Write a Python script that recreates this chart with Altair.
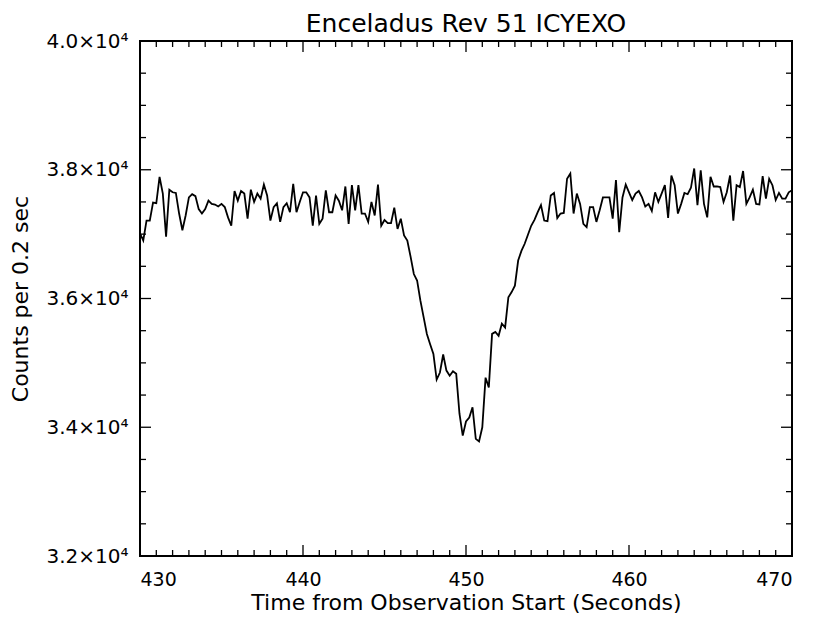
import altair as alt
import pandas as pd

# Counts per 0.2 s sample, starting at t = 430 s
counts = [
    37010, 36900, 37210, 37210, 37490, 37480, 37890, 37630, 36960, 37690,
    37650, 37640, 37320, 37060, 37290, 37570, 37620, 37590, 37390, 37320,
    37390, 37520, 37470, 37460, 37430, 37470, 37420, 37260, 37130, 37670,
    37520, 37670, 37630, 37240, 37690, 37500, 37630, 37550, 37770, 37600,
    37210, 37420, 37480, 37190, 37420, 37480, 37340, 37780, 37340, 37500,
    37650, 37650, 37570, 37130, 37600, 37160, 37240, 37680, 37340, 37340,
    37600, 37520, 37370, 37740, 37160, 37760, 37370, 37760, 37320, 37320,
    37190, 37500, 37290, 37770, 37130, 37220, 37170, 37170, 37410, 37080,
    37240, 36980, 36900, 36650, 36380, 36280, 35970, 35710, 35450, 35290,
    35140, 34740, 34850, 35130, 34880, 34800, 34870, 34830, 34210, 33870,
    34090, 34150, 34310, 33820, 33780, 34000, 34770, 34620, 35450, 35480,
    35420, 35610, 35550, 36020, 36100, 36200, 36590, 36740, 36850, 36990,
    37130, 37220, 37340, 37450, 37210, 37200, 37600, 37640, 37250, 37320,
    37330, 37860, 37940, 37320, 37630, 37470, 37160, 37110, 37420, 37420,
    37190, 37370, 37570, 37570, 37570, 37240, 37840, 37030, 37570, 37770,
    37650, 37530, 37630, 37670, 37570, 37430, 37470, 37360, 37650, 37500,
    37630, 37760, 37250, 37910, 37760, 37320, 37470, 37640, 37620, 37720,
    38020, 37450, 37990, 37470, 37260, 37890, 37740, 37740, 37730, 37500,
    37650, 37910, 37210, 37760, 37730, 37980, 37470, 37570, 37690, 37470,
    37460, 37900, 37550, 37860, 37760, 37530, 37640, 37550, 37550, 37650,
    37680,
]
t_start = 430.0
t_step = 0.2
times = [round(t_start + t_step * i, 1) for i in range(len(counts))]

x_major = [430, 440, 450, 460, 470]
x_minor = [v for v in range(431, 470) if v % 10 != 0]
y_major = [32000, 34000, 36000, 38000, 40000]
y_minor = [v for v in range(32500, 40000, 500) if v % 2000 != 0]

W, H = 652, 515
MAJ, MIN = 11, 6
FONT = "DejaVu Sans"

xs = alt.Scale(domain=[430, 470], nice=False, zero=False)
ys = alt.Scale(domain=[32000, 40000], nice=False, zero=False)

df = pd.DataFrame({"time": times, "counts": counts})

line = alt.Chart(df).mark_line(color="black", strokeWidth=1.8).encode(
    x=alt.X("time:Q", scale=xs,
            axis=alt.Axis(values=x_major, format="d", grid=False, ticks=False, tickSize=0,
                          domain=False, labelFontSize=19, labelPadding=14,
                          labelColor="black", labelFont=FONT,
                          title="Time from Observation Start (Seconds)",
                          titleFontSize=22, titleFontWeight="normal", titleFont=FONT,
                          titleColor="black", titlePadding=3)),
    y=alt.Y("counts:Q", scale=ys,
            axis=alt.Axis(values=y_major, grid=False, ticks=False, tickSize=0, domain=False,
                          labelExpr="format(datum.value / 10000, '.1f') + '×10⁴'",
                          labelFontSize=20, labelPadding=12, labelColor="black",
                          labelFont=FONT,
                          title="Counts per 0.2 sec", titleFontSize=22,
                          titleFontWeight="normal", titleFont=FONT, titleColor="black",
                          titleX=-120, titleY=H / 2, titleBaseline="middle",
                          titleAlign="center")),
)


def xticks(vals, y0, y1):
    return alt.Chart(pd.DataFrame({"time": vals})).mark_rule(
        color="black", strokeWidth=1.3).encode(
        x=alt.X("time:Q", scale=xs), y=alt.value(y0), y2=alt.value(y1))


def yticks(vals, x0, x1):
    return alt.Chart(pd.DataFrame({"counts": vals})).mark_rule(
        color="black", strokeWidth=1.3).encode(
        y=alt.Y("counts:Q", scale=ys), x=alt.value(x0), x2=alt.value(x1))


layers = [
    line,
    xticks(x_major, H, H - MAJ), xticks(x_minor, H, H - MIN),
    xticks(x_major, 0, MAJ), xticks(x_minor, 0, MIN),
    yticks(y_major, 0, MAJ), yticks(y_minor, 0, MIN),
    yticks(y_major, W, W - MAJ), yticks(y_minor, W, W - MIN),
]

chart = alt.layer(*layers).properties(
    width=W, height=H,
    autosize=alt.AutoSizeParams(type="none"),
    padding={"left": 132, "top": 33, "right": 12, "bottom": 60},
    title=alt.TitleParams("Enceladus Rev 51 ICYEXO", fontSize=25, fontWeight="normal",
                          font=FONT, color="black", anchor="middle", offset=4,
                          dy=10, frame="group"),
).configure_view(stroke="black", strokeWidth=2)

chart.save("out.html", embed_options={"renderer": "svg", "actions": False})
